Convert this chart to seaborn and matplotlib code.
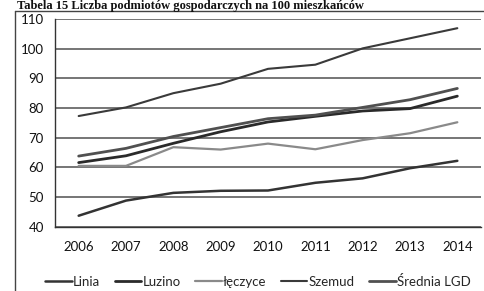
import matplotlib
matplotlib.use("Agg")
import matplotlib.pyplot as plt
import seaborn as sns
import pandas as pd
import numpy as np
from matplotlib.lines import Line2D

years = ["2006", "2007", "2008", "2009", "2010", "2011", "2012", "2013", "2014"]
linia = [43.7, 48.8, 51.4, 52.1, 52.2, 54.8, 56.3, 59.7, 62.2]
luzino = [61.6, 63.9, 68.1, 72.0, 75.3, 77.2, 79.0, 79.8, 84.0]
leczyce = [60.5, 60.5, 66.8, 66.0, 68.0, 66.1, 69.2, 71.5, 75.2]
szemud = [77.3, 80.2, 85.0, 88.2, 93.2, 94.6, 100.1, 103.5, 106.9]
srednia = [63.8, 66.4, 70.4, 73.4, 76.4, 77.6, 80.2, 82.8, 86.6]

series_names = ["Linia", "Luzino", "łęczyce", "Szemud", "Średnia LGD"]
series_vals = [linia, luzino, leczyce, szemud, srednia]
colors = ["#333333", "#2a2a2a", "#8a8a8a", "#3a3a3a", "#505050"]
widths = [1.8, 2.0, 1.6, 1.5, 2.0]

df = pd.DataFrame({
    "year": [y for _ in series_names for y in years],
    "value": [v for vals in series_vals for v in vals],
    "series": [n for n, vals in zip(series_names, series_vals) for _ in vals],
})

sns.set_style("white")
plt.rcParams["font.family"] = ["Lato", "DejaVu Sans"]

fig = plt.figure(figsize=(4.85, 2.91), dpi=100)
ax = fig.add_axes([55 / 485, 1 - 226.7 / 291, (481 - 55) / 485, (226.7 - 19) / 291])

for name, c, w in zip(series_names, colors, widths):
    sub = df[df["series"] == name]
    sns.lineplot(data=sub, x="year", y="value", ax=ax, color=c, linewidth=w,
                 legend=False, sort=False, zorder=3)

ax.set_xlim(-0.5, 8.5)
ax.set_ylim(40, 110)
ax.set_yticks(np.arange(40, 111, 10))
ax.set_xticks(range(len(years)))
ax.set_xticklabels(years)
ax.set_xticks(np.arange(-0.5, 9, 1), minor=True)
ax.tick_params(axis="x", which="major", length=0, pad=10, labelsize=9.5, labelcolor="#111111")
ax.tick_params(axis="x", which="minor", length=5, width=1, color="#333333", direction="out")
ax.tick_params(axis="y", which="major", length=5, width=1, color="#333333", direction="out",
               labelsize=9.5, pad=3, labelcolor="#111111")
ax.grid(axis="y", color="#505050", linewidth=1.1, zorder=1)
ax.grid(axis="x", visible=False)
ax.set_xlabel("")
ax.set_ylabel("")
for s in ["top", "right"]:
    ax.spines[s].set_visible(False)
for s in ["left", "bottom"]:
    ax.spines[s].set_color("#333333")
    ax.spines[s].set_linewidth(1.0)

handles = [Line2D([0], [0], color=c, linewidth=w) for c, w in zip(colors, widths)]
fig.legend(handles, series_names, loc="center", bbox_to_anchor=(258 / 485, 1 - 281 / 291),
           ncol=5, frameon=False, fontsize=9.5, handlelength=2.0, handletextpad=0.1,
           columnspacing=1.1, borderaxespad=0, borderpad=0)

# frame of the scanned figure box
fig.add_artist(Line2D([15 / 485, 15 / 485], [0, 1 - 11 / 291], transform=fig.transFigure,
                      color="#444444", linewidth=1.0))
fig.add_artist(Line2D([15 / 485, 1], [1 - 11 / 291, 1 - 11 / 291], transform=fig.transFigure,
                      color="#444444", linewidth=1.0))

fig.text(17 / 485, 1 - 9 / 291, "Tabela 15 Liczba podmiotów gospodarczych na 100 mieszkańców",
         family=["Liberation Serif", "DejaVu Serif"], fontweight="bold", fontsize=9.0,
         va="baseline", ha="left", color="#111111")

fig.savefig("out.png", dpi=100, facecolor="white")
